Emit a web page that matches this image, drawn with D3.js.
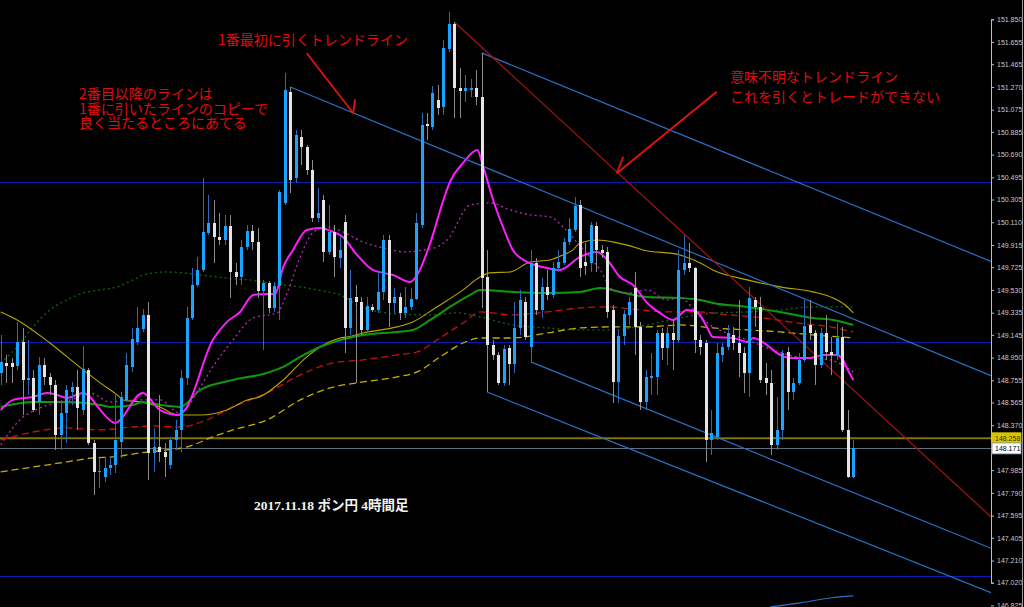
<!DOCTYPE html>
<html><head><meta charset="utf-8">
<script src="https://cdn.jsdelivr.net/npm/d3@7"></script>
<style>html,body{margin:0;padding:0;background:#000;overflow:hidden}</style>
</head><body><svg id="c" width="1024" height="607"></svg>
<script>
// ---- candle data (GBP/JPY 4H) ----
const opens=[148.818,148.904,148.904,148.878,149.084,148.758,148.775,148.570,148.887,148.784,
148.715,148.287,148.475,148.655,148.698,148.501,148.844,148.218,147.970,147.927,
148.004,148.030,148.227,148.587,148.870,149.084,149.196,149.316,148.132,148.184,
148.141,148.030,148.244,148.330,148.775,149.290,149.573,149.701,150.019,150.104,
149.984,149.958,150.079,149.684,149.641,149.898,150.036,149.941,149.521,149.590,
149.376,149.564,150.276,151.227,150.490,150.842,150.756,150.559,150.147,150.301,
149.856,150.027,149.804,150.113,149.204,149.470,149.427,149.187,149.384,149.358,
149.513,149.958,149.418,149.470,149.333,149.384,149.453,150.087,150.953,150.927,
151.159,151.099,151.596,151.810,151.262,151.236,151.244,151.262,151.184,149.641,
149.058,148.973,148.733,149.033,148.895,149.204,149.427,149.041,149.761,149.358,
149.556,149.487,149.718,149.761,149.941,150.044,150.259,149.770,149.761,150.079,
149.873,149.856,149.358,148.741,149.136,149.316,149.547,149.213,148.570,148.775,
148.784,149.161,149.033,149.161,149.101,149.701,149.761,149.718,149.101,149.075,
148.244,148.270,148.973,149.041,149.144,149.075,148.990,148.818,149.444,149.384,
148.775,148.733,148.201,148.330,148.998,148.655,148.733,148.930,149.230,149.161,
148.887,149.161,148.998,148.973,149.127,148.330,147.927];
const highs=[149.144,148.973,148.947,149.256,149.204,149.101,148.844,148.956,148.947,148.818,
148.758,148.587,148.715,148.741,148.844,149.050,148.861,148.244,148.090,148.090,
148.098,148.647,148.655,148.990,149.204,149.384,149.367,149.427,148.347,148.630,
148.218,148.270,148.415,148.844,149.384,149.718,149.813,150.490,150.344,150.301,
150.190,150.173,150.173,149.761,149.958,150.087,150.087,150.061,149.616,149.607,
149.598,150.387,151.390,151.270,150.902,150.902,150.773,150.644,150.404,150.344,
150.259,150.087,150.001,150.173,149.701,149.573,149.470,149.470,149.410,149.684,
150.001,150.001,149.547,149.504,149.556,149.547,150.190,151.047,151.047,151.279,
151.287,151.673,151.913,151.827,151.433,151.373,151.339,151.416,151.562,149.873,
149.101,148.998,149.058,149.058,149.427,149.530,149.470,149.873,149.804,149.633,
149.701,149.770,149.873,149.976,150.147,150.327,150.301,149.933,150.113,150.113,
149.916,149.898,149.401,149.187,149.358,149.470,149.684,149.256,148.844,148.990,
149.187,149.204,149.213,149.273,149.873,150.001,149.933,149.727,149.144,149.101,
148.501,149.075,149.075,149.230,149.213,149.444,149.041,149.556,149.470,149.470,
148.904,148.844,148.613,149.016,149.041,148.775,148.990,149.444,149.444,149.187,
149.204,149.316,149.127,149.247,149.213,148.501,148.244];
const lows=[148.715,148.733,148.733,148.844,148.458,148.630,148.484,148.458,148.715,148.630,
148.158,148.158,148.218,148.544,148.330,148.458,148.201,147.772,147.832,147.884,
147.944,147.961,148.090,148.570,148.827,149.058,149.170,147.901,147.970,148.055,
147.927,147.995,148.158,148.141,148.715,149.273,149.556,149.684,150.001,149.761,
149.916,149.916,149.461,149.573,149.573,149.873,149.873,149.461,149.016,149.333,
149.341,149.273,150.259,150.361,150.447,150.601,150.516,150.113,150.113,149.770,
149.830,149.641,149.718,148.990,149.144,148.733,149.144,149.170,149.341,149.333,
149.444,149.213,149.333,149.273,149.290,149.358,149.444,150.061,150.816,150.902,
151.030,151.030,151.570,151.004,151.004,151.142,151.184,151.116,149.376,148.655,
148.930,148.715,148.707,148.715,148.818,149.144,149.101,148.913,149.316,149.290,
149.444,149.461,149.684,149.744,149.916,150.027,149.641,149.658,149.684,149.684,
149.804,149.290,148.561,148.561,149.058,149.230,148.973,148.501,148.501,148.630,
148.630,148.930,148.887,148.844,149.075,149.658,149.684,148.990,148.973,148.055,
148.115,148.244,148.913,149.016,149.016,148.784,148.647,148.613,149.213,148.733,
148.630,148.115,148.158,148.244,148.501,148.587,148.715,148.913,149.101,148.715,
148.861,148.930,148.801,148.930,148.312,147.918,147.918];
const closes=[148.913,148.878,148.870,149.084,148.758,148.775,148.501,148.887,148.784,148.715,
148.287,148.475,148.673,148.698,148.518,148.853,148.218,147.970,147.978,148.004,
148.030,148.244,148.613,148.887,149.110,149.204,149.316,148.132,148.184,148.141,
148.098,148.244,148.330,148.775,149.290,149.573,149.701,150.027,150.104,149.984,
149.958,150.079,149.684,149.641,149.898,150.036,149.941,149.521,149.590,149.376,
149.564,150.370,151.244,150.473,150.859,150.756,150.559,150.147,150.190,149.856,
150.027,149.813,149.873,149.204,149.461,149.427,149.187,149.393,149.358,149.513,
149.958,149.418,149.470,149.333,149.384,149.453,150.104,150.944,150.936,151.219,
151.090,151.604,151.810,151.262,151.236,151.262,151.262,151.184,149.633,149.058,
148.973,148.733,149.024,148.895,149.204,149.444,149.127,149.761,149.358,149.556,
149.487,149.718,149.770,149.941,150.053,150.250,149.718,149.736,150.087,149.873,
149.847,149.341,148.741,149.136,149.324,149.427,149.213,148.570,148.784,148.793,
149.161,149.033,149.161,149.101,149.701,149.761,149.718,149.101,149.041,148.244,
148.304,148.990,149.041,149.161,149.075,148.990,148.818,149.461,149.384,148.758,
148.733,148.201,148.330,148.990,148.655,148.733,148.930,149.221,149.161,148.887,
149.161,148.998,148.973,149.118,148.330,147.927,148.171];

// ---- moving averages: [bar index, price] ----
const maMagenta=[[0,148.501],[2.3,148.587],[5.9,148.613],[8.5,148.647],[10.3,148.630],[12.1,148.604],[15.1,148.647],[16.3,148.613],[18.2,148.501],[20.9,148.390],[26.0,148.647],[29.1,148.501],[32.3,148.458],[33.7,148.501],[38.8,149.101],[41.4,149.256],[43.8,149.341],[46.2,149.487],[48.7,149.496],[50.2,149.496],[51.7,149.727],[53.5,149.873],[56.0,150.044],[58.4,150.061],[60.8,150.027],[62.6,149.984],[65.2,149.830],[68.1,149.701],[71.8,149.658],[74.9,149.598],[76.2,149.658],[78.6,149.933],[81.0,150.301],[82.2,150.456],[84.6,150.619],[87.2,150.730],[88.3,150.584],[90.1,150.301],[91.9,150.070],[93.7,149.873],[96.3,149.770],[100.0,149.718],[102.3,149.701],[106.0,149.813],[109.1,149.856],[111.0,149.787],[113.3,149.641],[115.7,149.573],[118.3,149.418],[120.6,149.333],[123.0,149.273],[125.6,149.358],[127.4,149.341],[129.2,149.213],[130.3,149.127],[134.0,149.118],[136.6,149.084],[137.7,149.118],[140.2,149.058],[142.0,148.990],[144.4,148.947],[148.1,148.947],[150.5,148.973],[153.0,148.973],[154.1,148.930],[155.0,148.844],[156.0,148.758]];
const maMagentaDot=[[0,148.201],[3.5,148.415],[7.2,148.518],[12.7,148.587],[16.3,148.647],[20.0,148.570],[25.5,148.587],[29.1,148.587],[32.8,148.475],[36.5,148.698],[38.8,148.870],[42.5,149.101],[46.2,149.290],[50.6,149.333],[52.4,149.504],[54.8,149.813],[57.1,150.019],[59.7,150.070],[62.6,150.027],[66.3,149.941],[70.0,149.890],[74.3,149.856],[77.3,149.873],[79.8,149.898],[81.7,149.958],[85.9,150.259],[89.5,150.276],[93.2,150.216],[96.9,150.173],[100.5,150.156],[102.9,150.070],[105.5,149.933],[109.7,149.701],[112.0,149.530],[114.6,149.504],[118.3,149.530],[121.9,149.444],[124.3,149.461],[128.0,149.298],[130.3,149.213],[132.9,149.161],[136.6,149.101],[141.3,149.016],[145.7,148.956],[151.8,148.930],[154.9,148.861],[156.0,148.827]];
const maYellow=[[0,149.341],[3.0,149.273],[9.0,149.075],[15.1,148.844],[18.2,148.733],[21.3,148.630],[22.4,148.587],[25.5,148.570],[29.1,148.527],[32.3,148.458],[36.5,148.458],[41.4,148.501],[45.1,148.587],[47.4,148.613],[51.7,148.758],[56.0,148.956],[59.7,149.075],[62.1,149.118],[63.4,149.127],[66.3,149.161],[72.5,149.213],[75.4,149.256],[79.8,149.384],[84.6,149.530],[87.7,149.641],[89.5,149.676],[93.2,149.684],[96.9,149.770],[100.5,149.787],[102.9,149.830],[104.7,149.873],[106.0,149.933],[109.1,149.958],[112.8,149.933],[116.4,149.890],[117.5,149.873],[124.3,149.830],[128.0,149.761],[130.3,149.701],[136.6,149.616],[142.6,149.556],[148.6,149.513],[152.3,149.461],[154.5,149.401],[156.0,149.333]];
const maGreen=[[0,148.527],[5.9,148.570],[12.1,148.570],[18.2,148.544],[20.0,148.527],[24.2,148.544],[26.0,148.570],[29.1,148.544],[32.8,148.527],[36.5,148.673],[42.5,148.758],[48.7,148.818],[51.7,148.870],[54.8,148.956],[58.4,149.041],[62.1,149.101],[66.3,149.144],[72.5,149.170],[75.4,149.187],[78.6,149.273],[82.2,149.384],[85.9,149.487],[87.7,149.530],[93.7,149.513],[100.0,149.504],[106.0,149.513],[109.7,149.547],[113.3,149.513],[118.3,149.470],[124.3,149.461],[128.0,149.444],[130.3,149.418],[136.6,149.384],[142.6,149.341],[148.6,149.290],[152.3,149.273],[156.0,149.230]];
const maRedDash=[[0,148.244],[5.9,148.312],[12.1,148.347],[18.2,148.330],[24.2,148.355],[27.9,148.364],[32.8,148.355],[37.7,148.415],[42.5,148.527],[45.6,148.587],[48.7,148.647],[54.8,148.801],[60.8,148.904],[66.3,148.930],[72.5,148.973],[76.2,148.998],[79.8,149.101],[84.6,149.247],[87.7,149.341],[93.7,149.316],[100.0,149.341],[106.0,149.376],[111.0,149.384],[117.0,149.358],[121.9,149.341],[127.4,149.341],[133.4,149.316],[139.5,149.290],[145.7,149.247],[151.8,149.213],[156.0,149.170]];
const maYellowDash=[[0,147.970],[5.9,148.012],[12.1,148.055],[16.9,148.090],[20.5,148.098],[25.5,148.132],[30.4,148.158],[34.1,148.184],[38.8,148.270],[42.5,148.330],[48.7,148.415],[54.8,148.587],[60.3,148.690],[66.3,148.741],[72.5,148.784],[76.2,148.827],[80.4,148.956],[84.6,149.075],[87.7,149.118],[93.7,149.118],[100.0,149.161],[106.0,149.204],[112.0,149.213],[118.3,149.213],[124.3,149.230],[130.3,149.204],[136.6,149.187],[142.6,149.170],[148.6,149.144],[153.6,149.127],[156.0,149.118]];
const maGreenDot=[[0,148.904],[3.0,149.041],[5.9,149.213],[9.0,149.358],[12.1,149.444],[15.1,149.504],[18.2,149.530],[21.3,149.556],[24.2,149.616],[26.8,149.667],[30.4,149.684],[33.4,149.676],[36.5,149.658],[39.6,149.641],[42.5,149.624],[45.6,149.616],[48.7,149.590],[51.7,149.573],[54.8,149.556],[57.9,149.530],[62.1,149.487],[66.3,149.376],[69.4,149.341],[72.5,149.324],[78.6,149.316],[83.5,149.333],[87.7,149.298],[93.7,149.230],[100.0,149.204],[106.0,149.187],[112.0,149.187],[118.3,149.230],[124.3,149.290],[130.3,149.333],[136.6,149.341],[142.6,149.358],[148.6,149.384],[156.0,149.384]];
const lowerBlue=[[140.8,146.812],[146.3,146.847],[151.8,146.889],[156.0,146.907]];

// ---- drawn objects ----
const trendBlue=[[[53,151.270],[125.6,149.868]],[[88,151.562],[177.4,149.847]],[[89,148.655],[122.5,148.030]],[[97,148.913],[177.4,147.387]]];
const trendRed=[[83,151.827],[181.2,147.584]];
const hLevels=[150.455,149.084,147.077];
const bidLevel=148.258, lastPrice=148.171;
const arrows=[{from:[56.0,151.559],to:[64.52,151.044],leg:[64.83,151.164]},{from:[131.0,151.229],to:[112.72,150.530],leg:[113.92,150.672]}];
const tickLabels=["151.850","151.655","151.465","151.270","151.075","150.885","150.690","150.495","150.305","150.110","149.915","149.725","149.530","149.335","149.145","148.950","148.755","148.565","148.370","147.985","147.790","147.595","147.405","147.210","147.020","146.825"];
const notes=[
 {t:"1番最初に引くトレンドライン",x:218,y:45},
 {t:"2番目以降のラインは",x:79,y:99},
 {t:"1番に引いたラインのコピーで",x:79,y:113.5},
 {t:"良く当たるところにあてる",x:79,y:127.5},
 {t:"意味不明なトレンドライン",x:730,y:82},
 {t:"これを引くとトレードができない",x:730,y:101.5}];
const title="2017.11.18 ポン円 4時間足";

const svg=d3.select("#c");
const plotR=991;
const x=d3.scaleLinear().domain([0,156]).range([0.7,853.3]);
const y=d3.scaleLinear().domain([151.85,147.02]).range([19.3,582.7]);
const xEnd=x.invert(plotR);

svg.append("rect").attr("width",1024).attr("height",607).attr("fill","#000");
svg.append("defs").append("clipPath").attr("id","clip").append("rect").attr("width",plotR).attr("height",607);
const g=svg.append("g").attr("clip-path","url(#clip)");

// horizontal levels
hLevels.forEach(p=>g.append("line").attr("x1",0).attr("x2",plotR).attr("y1",Math.round(y(p))+0.5).attr("y2",Math.round(y(p))+0.5).attr("stroke","#0b1cb0").attr("stroke-width",1.2));
g.append("line").attr("x1",0).attr("x2",plotR).attr("y1",y(bidLevel)).attr("y2",y(bidLevel)).attr("stroke","#857200").attr("stroke-width",2);
g.append("line").attr("x1",0).attr("x2",plotR).attr("y1",Math.round(y(lastPrice))+0.5).attr("y2",Math.round(y(lastPrice))+0.5).attr("stroke","#5f6e7d").attr("stroke-width",1);

// moving averages
const line=d3.line().x(d=>x(d[0])).y(d=>y(d[1])).curve(d3.curveMonotoneX);
const mas=[
 {d:maGreenDot,c:"#0a6a0a",w:1.3,dash:"2,3"},
 {d:maYellowDash,c:"#c4b000",w:1.3,dash:"7,4"},
 {d:maRedDash,c:"#c81010",w:1.3,dash:"7,4"},
 {d:maYellow,c:"#b8a600",w:1.1,dash:null},
 {d:maGreen,c:"#0c9a0c",w:2,dash:null},
 {d:maMagentaDot,c:"#b030b0",w:1.3,dash:"2,3"},
 {d:maMagenta,c:"#ff1cff",w:2,dash:null},
 {d:lowerBlue,c:"#2a70c8",w:1.2,dash:null}];
mas.forEach(m=>g.append("path").attr("d",line(m.d)).attr("fill","none").attr("stroke",m.c).attr("stroke-width",m.w).attr("stroke-dasharray",m.dash));

// trend lines (rays to the right edge)
function ray(a,b){const s=(b[1]-a[1])/(b[0]-a[0]);return [a,[xEnd,a[1]+s*(xEnd-a[0])]];}
const sline=d3.line().x(d=>x(d[0])).y(d=>y(d[1]));
trendBlue.forEach(t=>g.append("path").attr("d",sline(ray(t[0],t[1]))).attr("stroke","#2b6fc4").attr("stroke-width",1.2).attr("fill","none"));
g.append("path").attr("d",sline(ray(trendRed[0],trendRed[1]))).attr("stroke","#a81414").attr("stroke-width",1.2).attr("fill","none");

// candles
const idx=d3.range(opens.length);
const cg=g.append("g").attr("shape-rendering","crispEdges");
idx.forEach(i=>{
  const up=closes[i]>opens[i];
  const cx=Math.round(x(i));
  cg.append("line").attr("x1",cx+0.5).attr("x2",cx+0.5).attr("y1",y(highs[i])).attr("y2",y(lows[i])).attr("stroke",up?"#2e66b8":"#8a8a8a").attr("stroke-width",1);
  const top=y(Math.max(opens[i],closes[i])), bot=y(Math.min(opens[i],closes[i]));
  cg.append("rect").attr("x",cx-1).attr("width",3).attr("y",top).attr("height",Math.max(1.5,bot-top)).attr("fill",up?"#1aa3ff":"#e4e4e4");
});

// arrows
arrows.forEach(a=>{
  g.append("path").attr("d",sline([a.from,a.to])).attr("stroke","#e81010").attr("stroke-width",1.8).attr("fill","none");
  g.append("path").attr("d",sline([a.to,a.leg])).attr("stroke","#e81010").attr("stroke-width",1.8).attr("fill","none");
});

// annotations
notes.forEach(n=>svg.append("text").attr("x",n.x).attr("y",n.y).text(n.t).attr("fill","#e00c0c").attr("font-family","'Noto Sans CJK JP',sans-serif").attr("font-size",14));
svg.append("text").attr("x",254).attr("y",510).text(title).attr("fill","#f2f2f2").attr("font-family","'Liberation Serif','Noto Sans CJK JP',serif").attr("font-weight","bold").attr("font-size",13.5);

// right price axis
const ax=svg.append("g").attr("transform",`translate(${plotR},0)`)
  .call(d3.axisRight(y).tickValues(tickLabels.map(Number)).tickFormat(d3.format(".3f")).tickSize(3).tickPadding(3));
ax.select(".domain").attr("stroke","#bdbdbd");
ax.selectAll(".tick line").attr("stroke","#bdbdbd");
ax.selectAll(".tick text").attr("fill","#c8c8c8").attr("font-family","'Liberation Sans',Arial,sans-serif").attr("font-size",7);
svg.append("line").attr("x1",1022.5).attr("x2",1022.5).attr("y1",0).attr("y2",607).attr("stroke","#9a9a9a");

// price tags
function tag(p,bg,fg,border){
  const yy=y(p);
  svg.append("rect").attr("x",plotR+1).attr("y",yy-5.5).attr("width",29).attr("height",11).attr("fill",bg).attr("stroke",border).attr("stroke-width",0.8);
  svg.append("text").attr("x",plotR+4).attr("y",yy+3).text(d3.format(".3f")(p)).attr("fill",fg).attr("font-family","'Liberation Sans',Arial,sans-serif").attr("font-size",7);
}
tag(bidLevel,"#d9c400","#3a3000","#d9c400");
tag(lastPrice,"#ffffff","#000000","#7a8a9a");
</script></body></html>
